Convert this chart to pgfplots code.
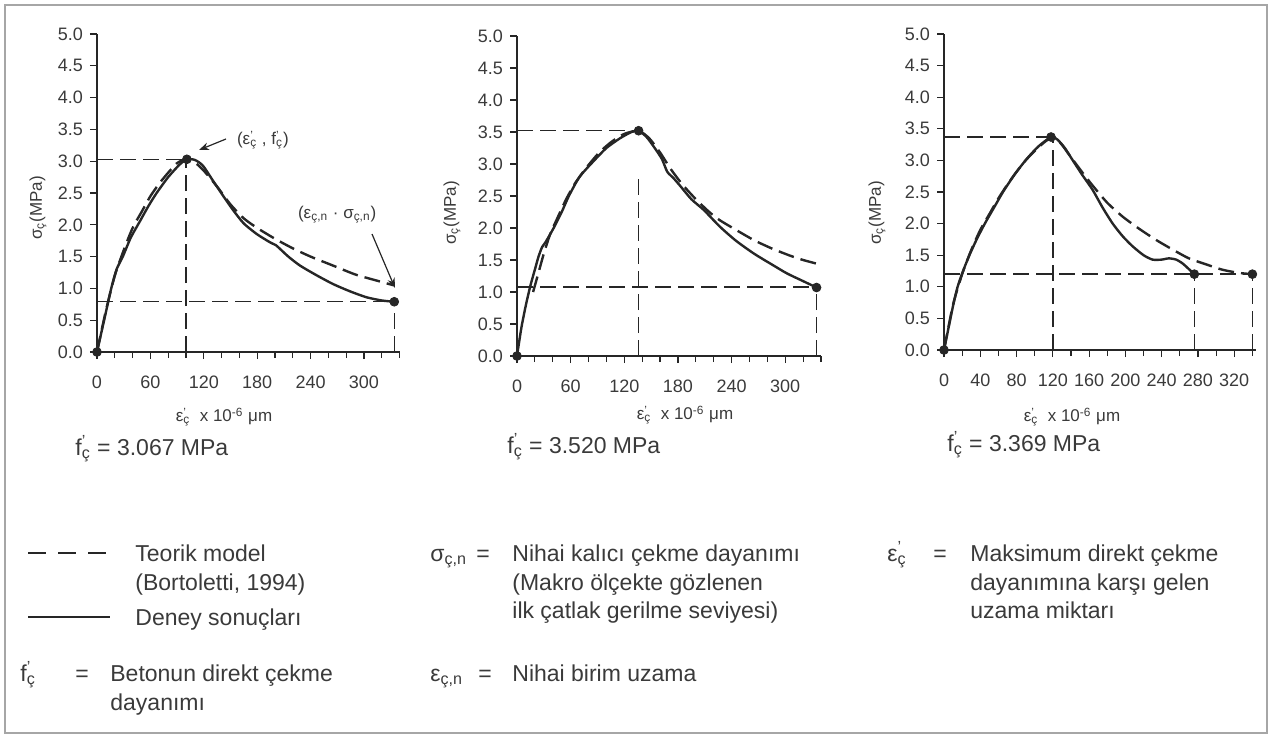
\documentclass[border=0pt]{standalone}
\usepackage{fontspec}
\setmainfont{Liberation Sans}
\usepackage{pgfplots}
\pgfplotsset{compat=1.18}
\usetikzlibrary{arrows.meta}
\definecolor{ink}{HTML}{262626}
\definecolor{txt}{HTML}{3A3A3A}

\newcommand{\sub}[1]{\textsubscript{#1}}
\newcommand{\pr}{\rlap{\textsuperscript{'}}}

\pgfplotsset{
  frag/.style={
    scale only axis,
    axis x line=bottom, axis y line=left,
    axis line style={-, line width=0.7pt, color=ink},
    xmin=0, ymin=0, ymax=5, enlargelimits=false, clip=false,
    ytick={0,0.5,...,5},
    tick align=outside, major tick length=3.5pt, minor tick length=3pt,
    tick style={ink, line width=0.6pt},
    tick label style={font=\fontsize{9}{10}\selectfont, color=txt},
    /pgf/number format/assume math mode=true,
    yticklabel style={/pgf/number format/.cd, fixed, fixed zerofill, precision=1},
    xticklabel style={yshift=-5pt},
  },
  deney/.style={ink, line width=1.2pt, smooth, tension=0.4, no marks},
  teori/.style={ink, line width=1.2pt, dash pattern=on 8pt off 3.5pt, smooth, tension=0.4, no marks},
  guide/.style={ink, line width=0.7pt, dash pattern=on 8pt off 3.5pt, no marks},
  nokta/.style={only marks, mark=*, mark size=2.2pt, mark options={fill=ink, draw=ink}},
}

\begin{document}
\begin{tikzpicture}
\useasboundingbox (0,0) rectangle (635pt,-369pt);

% ---- grafik 1
\begin{axis}[frag, at={(48.5pt,-176pt)}, anchor=south west,
  width=151.3pt, height=159pt, xmax=340,
  xtick={0,60,...,300}, minor xtick={20,40,80,100,140,160,200,220,260,280,320,340}]
\addplot[guide] coordinates {(0,3.03) (100,3.03)};
\addplot[guide] coordinates {(100,0) (100,3.03)};
\addplot[guide] coordinates {(0,0.79) (334,0.79)};
\addplot[guide] coordinates {(334,0) (334,0.79)};
\addplot[teori] coordinates {
  (0,0) (10,0.65) (20,1.2) (30,1.6) (40,1.95) (50,2.2) (60,2.45) (70,2.65)
  (80,2.82) (90,2.97) (100,3.03) (110,2.98) (120,2.85) (135,2.6) (150,2.32)
  (165,2.1) (180,1.95) (200,1.78) (220,1.63) (240,1.5) (265,1.36) (290,1.22)
  (315,1.12) (333,1.05)};
\addplot[deney] coordinates {
  (0,0) (8,0.5) (16,1.0) (22,1.3) (29,1.5) (38,1.8) (48,2.05) (58,2.3) (67,2.5)
  (80,2.75) (93,2.95) (101,3.03) (110,3.02) (119,2.93) (130,2.7) (142,2.45)
  (153,2.23) (165,2.02) (180,1.85) (195,1.72) (201,1.68) (215,1.5) (228,1.36)
  (245,1.22) (265,1.07) (285,0.95) (303,0.86) (320,0.81) (334,0.79)};
\addplot[nokta] coordinates {(0,0) (101,3.03) (334,0.79)};
\end{axis}

% ---- grafik 2
\begin{axis}[frag, at={(258.5pt,-178pt)}, anchor=south west,
  width=152pt, height=160pt, xmax=340,
  xtick={0,60,...,300}, minor xtick={20,40,80,100,140,160,200,220,260,280,320,340}]
\addplot[guide] coordinates {(0,3.52) (136,3.52)};
\addplot[guide] coordinates {(136,0) (136,2.8)};
\addplot[guide] coordinates {(0,1.08) (335,1.08)};
\addplot[guide] coordinates {(335,0) (335,1.07)};
\addplot[teori] coordinates {
  (18,1.0) (24,1.3) (30,1.6) (37,1.9) (45,2.15) (55,2.45) (65,2.7) (78,2.95)
  (92,3.18) (106,3.35) (120,3.47) (136,3.52) (148,3.4) (160,3.18) (172,2.92)
  (185,2.68) (200,2.45) (215,2.25) (227,2.12) (245,1.97) (265,1.81) (285,1.68)
  (305,1.57) (320,1.5) (336,1.44)};
\addplot[deney] coordinates {
  (0,0) (5,0.45) (10,0.8) (15,1.1) (20,1.35) (24,1.55) (28,1.7) (32,1.78)
  (41,2.0) (50,2.25) (58,2.5) (70,2.8) (86,3.05) (100,3.25) (115,3.4) (128,3.5)
  (136,3.52) (145,3.42) (153,3.27) (162,3.08) (168,2.88) (175,2.78) (183,2.65)
  (195,2.45) (209,2.28) (227,2.02) (245,1.8) (265,1.6) (285,1.43) (302,1.29)
  (320,1.17) (335,1.07)};
\addplot[nokta] coordinates {(0,0) (136,3.52) (335,1.07)};
\end{axis}

% ---- grafik 3
\begin{axis}[frag, at={(472pt,-175pt)}, anchor=south west,
  width=156pt, height=158pt, xmax=344,
  xtick={0,40,...,320}, minor xtick={20,60,...,340}]
\addplot[guide] coordinates {(0,3.37) (118,3.37)};
\addplot[guide] coordinates {(120,0) (120,3.37)};
\addplot[guide] coordinates {(0,1.2) (340,1.2)};
\addplot[guide] coordinates {(276,0) (276,1.2)};
\addplot[guide] coordinates {(340,0) (340,1.2)};
\addplot[teori] coordinates {
  (0,0) (10,0.72) (20,1.2) (30,1.58) (40,1.9) (50,2.15) (60,2.4) (70,2.62)
  (80,2.82) (90,3.0) (100,3.15) (110,3.28) (118,3.35) (128,3.28) (140,3.05)
  (152,2.82) (164,2.6) (180,2.33) (197,2.11) (215,1.92) (234,1.74) (252,1.59)
  (270,1.45) (290,1.35) (307,1.27) (325,1.22) (340,1.2)};
\addplot[deney] coordinates {
  (0,0) (5,0.35) (10,0.7) (15,1.0) (21,1.25) (28,1.5) (36,1.75) (45,2.0)
  (55,2.25) (65,2.5) (78,2.78) (91,3.02) (104,3.22) (118,3.37) (125,3.33)
  (133,3.2) (142,3.0) (152,2.78) (164,2.53) (175,2.25) (186,2.0) (197,1.8)
  (208,1.64) (220,1.5) (230,1.43) (240,1.43) (248,1.45) (256,1.43) (263,1.37)
  (270,1.28) (276,1.2)};
\addplot[nokta] coordinates {(0,0) (118,3.37) (276,1.2) (340,1.2)};
\end{axis}

\begin{scope}[x=0.5pt, y=-0.5pt, color=txt]
% cerceve
\draw[gray!70, line width=0.6pt] (5,5) rectangle (1267,733);

% eksen etiketleri
\begin{scope}[font=\fontsize{8.5}{10}\selectfont]
\node[rotate=90] at (38,208) {σ\sub{ç}(MPa)};
\node[rotate=90] at (452,213) {σ\sub{ç}(MPa)};
\node[rotate=90] at (877,213) {σ\sub{ç}(MPa)};
\node at (224,417) {ε\pr\sub{ç} \ x 10\textsuperscript{-6} μm};
\node at (685,415) {ε\pr\sub{ç} \ x 10\textsuperscript{-6} μm};
\node at (1072,417) {ε\pr\sub{ç} \ x 10\textsuperscript{-6} μm};
% notlar
\node[anchor=west] at (230,140) {(ε\pr\sub{ç} , f\pr\sub{ç})};
\node[anchor=west] at (291,215) {(ε\sub{ç,n} · σ\sub{ç,n})};
\end{scope}
\draw[-{Stealth[length=5pt]}, line width=0.6pt, ink] (226,139) -- (199,150);
\draw[-{Stealth[length=5pt]}, line width=0.6pt, ink] (372,234) -- (395,288);

% dayanim degerleri
\begin{scope}[font=\fontsize{11.5}{14}\selectfont, inner sep=0pt]
\node[anchor=base west] at (75,455) {f\pr\sub{ç} = 3.067 MPa};
\node[anchor=base west] at (507,453) {f\pr\sub{ç} = 3.520 MPa};
\node[anchor=base west] at (947,451) {f\pr\sub{ç} = 3.369 MPa};
\end{scope}

% aciklamalar
\draw[ink, line width=1.1pt, dash pattern=on 9pt off 6pt] (28,553) -- (106,553);
\draw[ink, line width=1.1pt] (28,617) -- (110,617);
\begin{scope}[font=\fontsize{11.5}{14}\selectfont, inner sep=0pt]
\node[anchor=base west] at (135,561) {Teorik model};
\node[anchor=base west] at (135,590) {(Bortoletti, 1994)};
\node[anchor=base west] at (135,625) {Deney sonuçları};
\node[anchor=base west] at (20,681) {f\pr\sub{ç}};
\node[anchor=base] at (82,681) {=};
\node[anchor=base west] at (110,681) {Betonun direkt çekme};
\node[anchor=base west] at (110,710) {dayanımı};

\node[anchor=base west] at (430,561) {σ\sub{ç,n}};
\node[anchor=base] at (483,561) {=};
\node[anchor=base west] at (512,561) {Nihai kalıcı çekme dayanımı};
\node[anchor=base west] at (512,590) {(Makro ölçekte gözlenen};
\node[anchor=base west] at (512,618) {ilk çatlak gerilme seviyesi)};
\node[anchor=base west] at (430,681) {ε\sub{ç,n}};
\node[anchor=base] at (485,681) {=};
\node[anchor=base west] at (512,681) {Nihai birim uzama};

\node[anchor=base west] at (887,561) {ε\pr\sub{ç}};
\node[anchor=base] at (940,561) {=};
\node[anchor=base west] at (970,561) {Maksimum direkt çekme};
\node[anchor=base west] at (970,590) {dayanımına karşı gelen};
\node[anchor=base west] at (970,618) {uzama miktarı};
\end{scope}
\end{scope}
\end{tikzpicture}
\end{document}
